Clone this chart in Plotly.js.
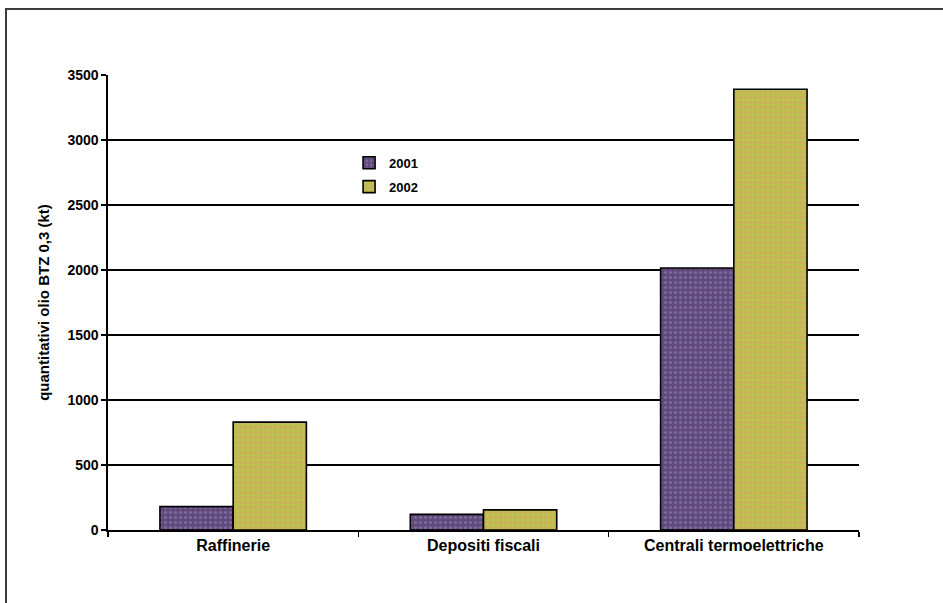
<!DOCTYPE html>
<html>
<head>
<meta charset="utf-8">
<script src="https://cdn.plot.ly/plotly-3.0.1.min.js"></script>
<style>
  html, body { margin: 0; padding: 0; background: #ffffff; overflow: hidden; }
  #frame {
    position: absolute; left: 5px; top: 8px; width: 1000px; height: 700px;
    border: 2px solid #3c3c3c; box-sizing: border-box; pointer-events: none;
  }
  #chart { position: absolute; left: 0; top: 0; width: 943px; height: 603px; }
</style>
</head>
<body>
<div id="frame"></div>
<div id="chart"></div>
<script>
// Categories and yearly quantities (kt)
const categories = ["Raffinerie", "Depositi fiscali", "Centrali termoelettriche"];
const years = ["2001", "2002"];
const values2001 = [180, 120, 2015];
const values2002 = [830, 155, 3390];
const yTicks = [0, 500, 1000, 1500, 2000, 2500, 3000, 3500];

const boldFont = { family: "Liberation Sans, Arial, sans-serif", color: "#000000", weight: "bold" };

function series(name, vals, base, dots, group) {
  return {
    type: "bar",
    name: name,
    x: categories,
    y: vals,
    legendgroup: group,
    marker: {
      color: base,
      line: { color: "#000000", width: 1.6 },
      pattern: { shape: ".", fgcolor: dots, bgcolor: base, size: 5, solidity: 0.3, fillmode: "replace" }
    },
    hoverinfo: "x+y+name"
  };
}

const data = [
  series(years[0], values2001, "#614a7b", "#7b6a9c", "g1"),
  series(years[1], values2002, "#bdc14f", "#d1a95f", "g2")
];

const layout = {
  width: 943,
  height: 603,
  margin: { l: 108, r: 84, t: 75, b: 73 },
  paper_bgcolor: "rgba(0,0,0,0)",
  plot_bgcolor: "rgba(0,0,0,0)",
  barmode: "group",
  bargap: 0.415,
  bargroupgap: 0,
  showlegend: true,
  legend: {
    x: 0.321, y: 0.84, xanchor: "left", yanchor: "top",
    bgcolor: "rgba(0,0,0,0)",
    font: Object.assign({ size: 13 }, boldFont),
    traceorder: "grouped",
    tracegroupgap: 4,
    itemwidth: 30
  },
  xaxis: {
    type: "category",
    showline: true, linecolor: "#000000", linewidth: 1.6,
    ticks: "outside", tickson: "boundaries", ticklen: 5, tickcolor: "#000000", tickwidth: 1.5,
    tickfont: Object.assign({ size: 16 }, boldFont),
    showgrid: false,
    fixedrange: true
  },
  yaxis: {
    range: [0, 3500],
    tickvals: yTicks,
    ticktext: yTicks.map(String),
    showline: true, linecolor: "#000000", linewidth: 1.6,
    ticks: "outside", ticklen: 5, tickcolor: "#000000", tickwidth: 1.5,
    showgrid: true, gridcolor: "#000000", gridwidth: 1.6,
    zeroline: false,
    tickfont: Object.assign({ size: 14 }, boldFont),
    title: { text: "quantitativi olio BTZ 0,3 (kt)", font: Object.assign({ size: 15 }, boldFont), standoff: 14 },
    fixedrange: true
  }
};

Plotly.newPlot("chart", data, layout, { displayModeBar: false, staticPlot: true });
</script>
</body>
</html>
